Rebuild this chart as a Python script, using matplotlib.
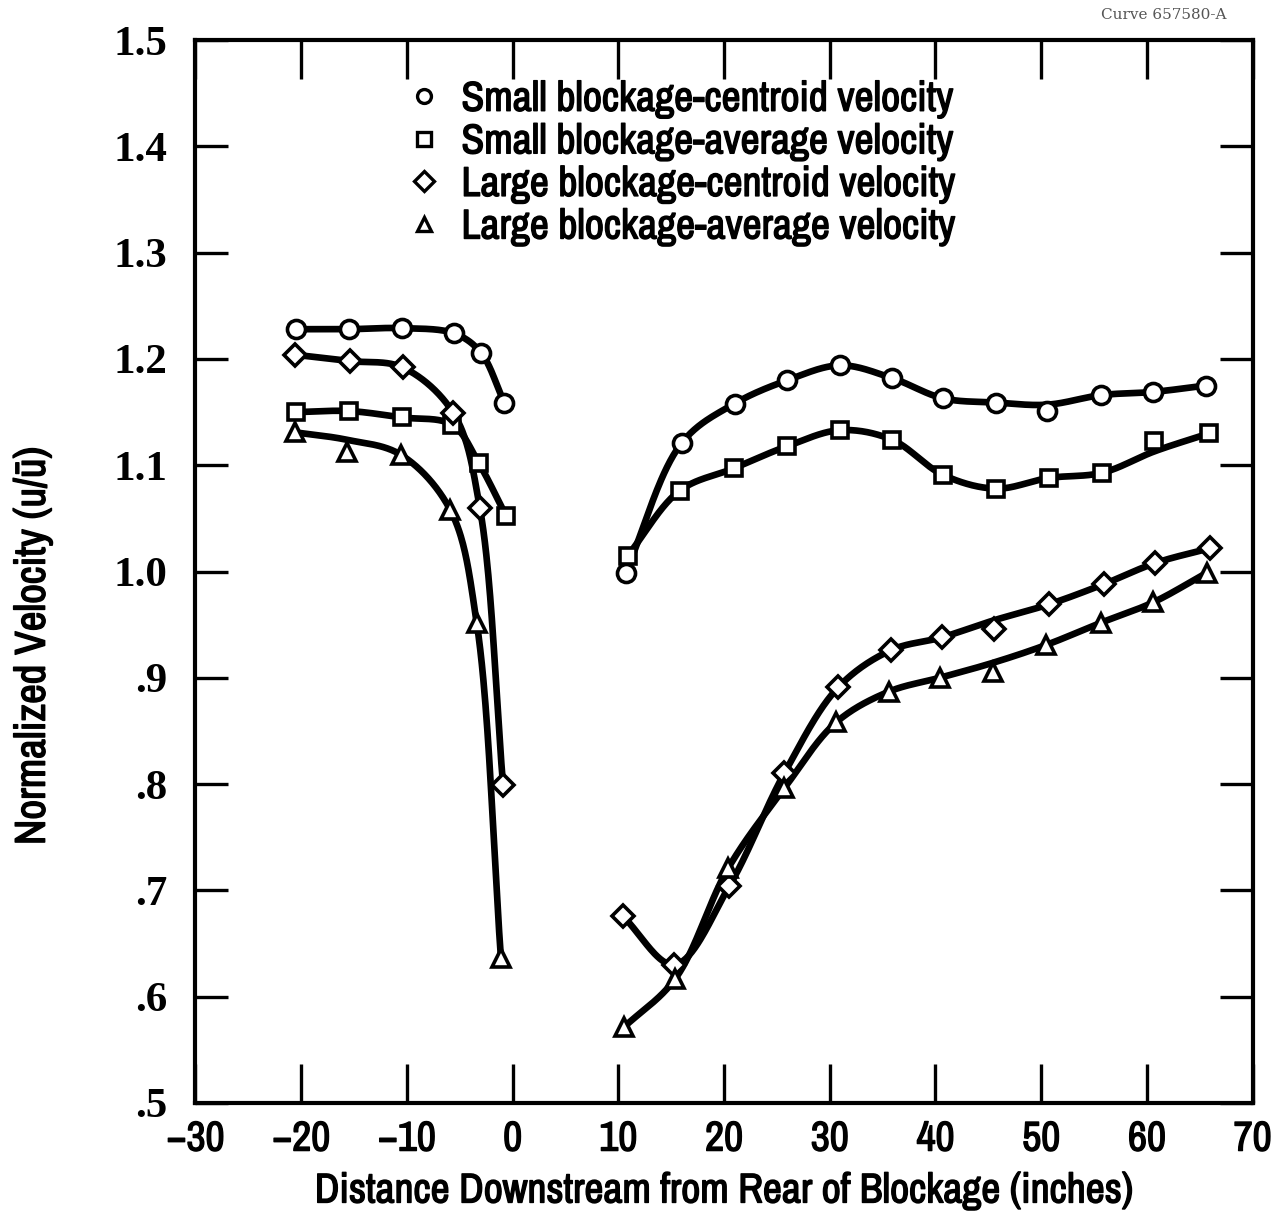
import numpy as np
import matplotlib
matplotlib.use("Agg")
import matplotlib.pyplot as plt
import matplotlib.patheffects as pe
from matplotlib.lines import Line2D

sc_x_up = [-20.5, -15.5, -10.5, -5.5, -3.0, -0.8]
sc_y_up = [1.228, 1.228, 1.229, 1.224, 1.206, 1.159]
sc_x_dn = [10.7, 16.0, 21.0, 26.0, 31.0, 35.9, 40.7, 45.7, 50.6, 55.7, 60.6, 65.6]
sc_y_dn = [0.999, 1.121, 1.158, 1.180, 1.194, 1.182, 1.163, 1.159, 1.151, 1.166, 1.169, 1.175]

sa_x_up = [-20.5, -15.5, -10.5, -5.7, -3.2, -0.6]
sa_y_up = [1.150, 1.151, 1.145, 1.138, 1.102, 1.052]
sa_x_dn = [10.9, 15.8, 20.9, 26.0, 31.0, 35.9, 40.7, 45.7, 50.7, 55.8, 60.7, 65.9]
sa_y_dn = [1.015, 1.076, 1.097, 1.118, 1.133, 1.124, 1.091, 1.078, 1.088, 1.093, 1.123, 1.130]

lc_x_up = [-20.6, -15.4, -10.4, -5.6, -3.1, -0.9]
lc_y_up = [1.204, 1.198, 1.192, 1.149, 1.060, 0.799]
lc_x_dn = [10.4, 15.3, 20.5, 25.7, 30.8, 35.8, 40.6, 45.5, 50.7, 55.9, 60.8, 66.0]
lc_y_dn = [0.676, 0.630, 0.704, 0.810, 0.891, 0.926, 0.938, 0.946, 0.969, 0.988, 1.008, 1.022]

la_x_up = [-20.6, -15.7, -10.6, -5.9, -3.4, -1.1]
la_y_up = [1.131, 1.112, 1.110, 1.058, 0.952, 0.636]
la_x_dn = [10.5, 15.4, 20.4, 25.7, 30.6, 35.6, 40.4, 45.4, 50.5, 55.7, 60.6, 65.7]
la_y_dn = [0.571, 0.617, 0.721, 0.796, 0.858, 0.887, 0.900, 0.905, 0.931, 0.952, 0.971, 0.999]

# where the hand-faired pen line misses a plotted point: (index, y of line there)
sc_line_fix = {8: 1.157}
sa_line_fix = {10: 1.113}
lc_line_fix = {7: 0.954}
la_line_fix_up = {1: 1.124}
la_line_fix = {7: 0.914}

labels = ["Small blockage-centroid velocity", "Small blockage-average velocity",
          "Large blockage-centroid velocity", "Large blockage-average velocity"]
markers = ["o", "s", "D", "^"]

x_ticks = [-30, -20, -10, 0, 10, 20, 30, 40, 50, 60, 70]
y_ticks = [0.5, 0.6, 0.7, 0.8, 0.9, 1.0, 1.1, 1.2, 1.3, 1.4, 1.5]
y_tick_labels = [".5", ".6", ".7", ".8", ".9", "1.0", "1.1", "1.2", "1.3", "1.4", "1.5"]

FONT = ["Archivo Narrow", "DejaVu Sans"]
SERIF = ["Liberation Serif", "DejaVu Serif"]
# narrow face only ships in regular weight here, so thicken it with a thin stroke
BOLD = [pe.withStroke(linewidth=1.0, foreground="black")]


def faired(x, y, fix=None, n=40):
    # centripetal Catmull-Rom (in roughly pixel-square units) for the pen line
    y = list(y)
    for i, v in (fix or {}).items():
        y[i] = v
    p = np.column_stack([x, np.array(y) * 100.0]).astype(float)
    p = np.vstack([2 * p[0] - p[1], p, 2 * p[-1] - p[-2]])
    out = []
    for i in range(1, len(p) - 2):
        p0, p1, p2, p3 = p[i - 1], p[i], p[i + 1], p[i + 2]
        t0 = 0.0
        t1 = t0 + np.linalg.norm(p1 - p0) ** 0.5
        t2 = t1 + np.linalg.norm(p2 - p1) ** 0.5
        t3 = t2 + np.linalg.norm(p3 - p2) ** 0.5
        t = np.linspace(t1, t2, n)[:, None]
        a1 = (t1 - t) / (t1 - t0) * p0 + (t - t0) / (t1 - t0) * p1
        a2 = (t2 - t) / (t2 - t1) * p1 + (t - t1) / (t2 - t1) * p2
        a3 = (t3 - t) / (t3 - t2) * p2 + (t - t2) / (t3 - t2) * p3
        b1 = (t2 - t) / (t2 - t0) * a1 + (t - t0) / (t2 - t0) * a2
        b2 = (t3 - t) / (t3 - t1) * a2 + (t - t1) / (t3 - t1) * a3
        out.append((t2 - t) / (t2 - t1) * b1 + (t - t1) / (t2 - t1) * b2)
    out = np.vstack(out)
    return out[:, 0], out[:, 1] / 100.0


fig = plt.figure(figsize=(12.86, 12.16), dpi=100)
ax = fig.add_axes([0.152, 0.093, 0.822, 0.874])

series = [
    (sc_x_up, sc_y_up, None, sc_x_dn, sc_y_dn, sc_line_fix),
    (sa_x_up, sa_y_up, None, sa_x_dn, sa_y_dn, sa_line_fix),
    (lc_x_up, lc_y_up, None, lc_x_dn, lc_y_dn, lc_line_fix),
    (la_x_up, la_y_up, la_line_fix_up, la_x_dn, la_y_dn, la_line_fix),
]
msize = {"o": 13, "s": 12, "D": 11, "^": 13}
for (xu, yu, fu, xd, yd, fd), m in zip(series, markers):
    for xs, ys, fx in ((xu, yu, fu), (xd, yd, fd)):
        cx, cy = faired(xs, ys, fx)
        ax.plot(cx, cy, color="black", lw=4.8, solid_capstyle="round", zorder=2)
        ax.plot(xs, ys, ls="none", marker=m, ms=msize[m], mfc="white",
                mec="black", mew=2.6, zorder=3)

ax.set_xlim(-30, 70)
ax.set_ylim(0.5, 1.5)
ax.set_xticks(x_ticks)
ax.set_yticks(y_ticks)
ax.set_yticklabels(y_tick_labels)
ax.tick_params(direction="in", length=24, width=2.4, top=True, right=True)
ax.tick_params(axis="x", length=28, labelsize=30, pad=12)
ax.tick_params(axis="y", labelsize=31, pad=20)
for lab in ax.get_xticklabels():
    lab.set_family(FONT)
    lab.set_path_effects(BOLD)
for lab in ax.get_yticklabels():
    lab.set_family(SERIF)
    lab.set_fontweight("bold")
for sp in ax.spines.values():
    sp.set_linewidth(3)

ax.set_xlabel("Distance Downstream from Rear of Blockage (inches)", family=FONT,
              fontsize=30, labelpad=10, path_effects=BOLD)
ax.set_ylabel("Normalized Velocity (u/ū)", family=FONT, fontsize=31,
              path_effects=BOLD)
ax.yaxis.set_label_coords(-0.136, 0.43)

handles = [Line2D([], [], ls="none", marker=m, ms=10, mfc="white", mec="black",
                  mew=2.4) for m in markers]
leg = ax.legend(handles, labels, loc="upper left", bbox_to_anchor=(0.157, 0.998),
                frameon=False, handletextpad=0.3, labelspacing=0.11, handlelength=1.2,
                prop={"family": FONT, "size": 30})
for t in leg.get_texts():
    t.set_path_effects(BOLD)

fig.text(0.905, 0.988, "Curve 657580-A", family="DejaVu Serif", fontsize=11,
         color="#555555", ha="center", va="center")

fig.savefig("out.png", dpi=100, facecolor="white")
